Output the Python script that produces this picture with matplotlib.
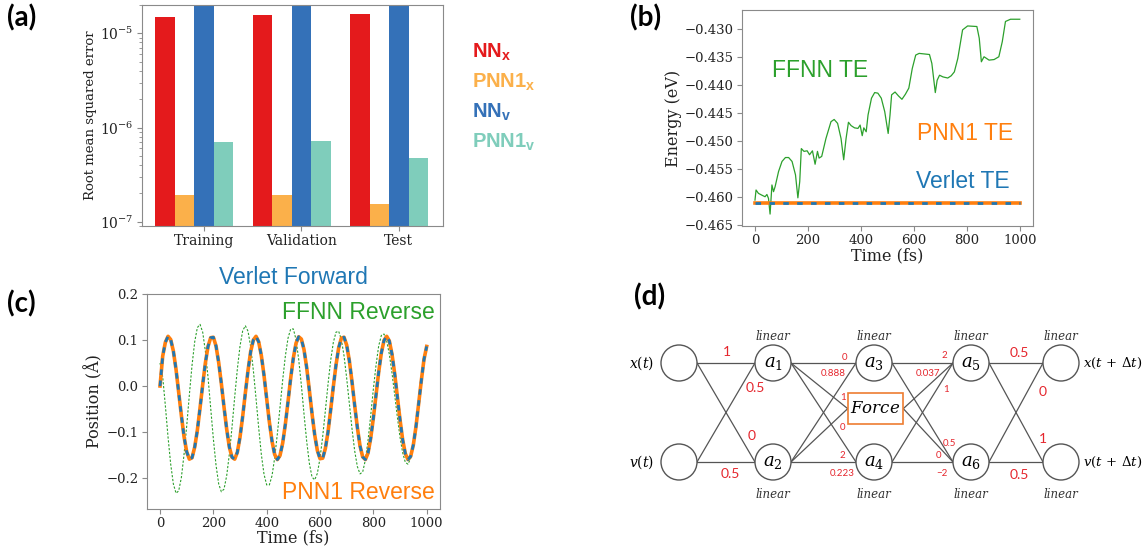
import numpy as np
import matplotlib
matplotlib.use("Agg")
import matplotlib.pyplot as plt
from matplotlib.patches import Circle, Rectangle

plt.rcParams["font.family"] = "DejaVu Serif"
plt.rcParams["mathtext.fontset"] = "custom"
plt.rcParams["mathtext.rm"] = "DejaVu Serif"
plt.rcParams["mathtext.it"] = "DejaVu Serif:italic"
plt.rcParams["mathtext.bf"] = "Liberation Sans:bold"

# ── (a) RMSE per split ────────────────────────────────────────────────────
splits = ["Training", "Validation", "Test"]
rmse_nn_x = [1.48e-5, 1.55e-5, 1.60e-5]
rmse_pnn1_x = [1.91e-7, 1.92e-7, 1.54e-7]
rmse_nn_v = [3.5e-5, 3.5e-5, 3.5e-5]      # runs off the top of the axis
rmse_pnn1_v = [7.06e-7, 7.20e-7, 4.74e-7]
bar_labels = [r"$\mathbf{NN_x}$", r"$\mathbf{PNN1_x}$", r"$\mathbf{NN_v}$", r"$\mathbf{PNN1_v}$"]
bar_colors = ["#e41a1c", "#fbb04a", "#3471b8", "#7fcdbb"]

# ── (b) total energy vs time ──────────────────────────────────────────────
ffnn_te_time = [0, 4, 13, 25, 38, 45, 51, 57, 64, 70, 76, 89, 102, 115, 127, 140, 153, 162,
                169, 175, 185, 197, 206, 217, 227, 236, 242, 252, 268, 287, 299, 312, 325,
                335, 344, 353, 363, 376, 389, 397, 405, 411, 420, 427, 440, 452, 464, 477,
                490, 503, 510, 516, 529, 542, 555, 568, 581, 594, 607, 620, 659, 668, 681,
                688, 697, 710, 728, 741, 753, 766, 784, 803, 838, 847, 855, 865, 884, 903,
                921, 934, 946, 965, 1000]
ffnn_te = [-0.4605, -0.4587, -0.4593, -0.4596, -0.4599, -0.4595, -0.4602, -0.4630, -0.4578,
           -0.4590, -0.4581, -0.4554, -0.4536, -0.4529, -0.4529, -0.4536, -0.4560, -0.4601,
           -0.4572, -0.4513, -0.4518, -0.4517, -0.4524, -0.4517, -0.4541, -0.4518, -0.4530,
           -0.4527, -0.4495, -0.4465, -0.4461, -0.4468, -0.4495, -0.4533, -0.4495, -0.4466,
           -0.4472, -0.4476, -0.4477, -0.4471, -0.4490, -0.4476, -0.4483, -0.4453, -0.4423,
           -0.4413, -0.4414, -0.4423, -0.4447, -0.4486, -0.4453, -0.4417, -0.4412, -0.4419,
           -0.4425, -0.4416, -0.4405, -0.4370, -0.4346, -0.4343, -0.4345, -0.4361, -0.4413,
           -0.4391, -0.4382, -0.4385, -0.4387, -0.4383, -0.4376, -0.4352, -0.4301, -0.4294,
           -0.4295, -0.4316, -0.4358, -0.4349, -0.4355, -0.4354, -0.4349, -0.4322, -0.4286,
           -0.4282, -0.4282]
te_time = [0, 1000]
pnn1_te = [-0.4610, -0.4610]
verlet_te = [-0.4610, -0.4610]

# ── (c) position vs time, every 10 fs ─────────────────────────────────────
pos_time = np.arange(0, 1001, 10)
verlet_fwd = [0.000, 0.065, 0.095, 0.108, 0.101, 0.076, 0.036, -0.014, -0.064, -0.110,
              -0.143, -0.159, -0.156, -0.133, -0.096, -0.048, 0.003, 0.050, 0.086, 0.105,
              0.106, 0.087, 0.051, 0.005, -0.046, -0.094, -0.133, -0.155, -0.159, -0.144,
              -0.111, -0.066, -0.015, 0.034, 0.075, 0.100, 0.108, 0.096, 0.066, 0.023,
              -0.028, -0.078, -0.120, -0.149, -0.160, -0.151, -0.124, -0.083, -0.034, 0.017,
              0.061, 0.093, 0.107, 0.102, 0.079, 0.040, -0.009, -0.060, -0.106, -0.140,
              -0.158, -0.157, -0.136, -0.100, -0.052, -0.001, 0.046, 0.083, 0.104, 0.106,
              0.089, 0.055, 0.009, -0.042, -0.090, -0.130, -0.154, -0.160, -0.146, -0.114,
              -0.070, -0.020, 0.030, 0.072, 0.099, 0.108, 0.098, 0.069, 0.027, -0.023,
              -0.073, -0.117, -0.147, -0.160, -0.153, -0.128, -0.088, -0.038, 0.012, 0.058,
              0.086]
pnn1_rev = list(verlet_fwd)   # indistinguishable from Verlet in the figure
ffnn_rev = [0.050, 0.020, -0.043, -0.111, -0.170, -0.213, -0.233, -0.228, -0.199, -0.149,
            -0.087, -0.019, 0.045, 0.096, 0.127, 0.134, 0.117, 0.076, 0.019, -0.048,
            -0.115, -0.172, -0.213, -0.230, -0.224, -0.195, -0.148, -0.089, -0.024, 0.037,
            0.087, 0.120, 0.131, 0.119, 0.085, 0.034, -0.027, -0.091, -0.149, -0.192,
            -0.215, -0.215, -0.195, -0.156, -0.104, -0.046, 0.013, 0.065, 0.104, 0.124,
            0.124, 0.101, 0.058, 0.002, -0.061, -0.120, -0.168, -0.198, -0.204, -0.190,
            -0.157, -0.110, -0.054, 0.004, 0.056, 0.095, 0.117, 0.119, 0.101, 0.066,
            0.017, -0.038, -0.093, -0.141, -0.175, -0.191, -0.187, -0.161, -0.119, -0.065,
            -0.007, 0.045, 0.087, 0.110, 0.113, 0.098, 0.069, 0.028, -0.019, -0.067,
            -0.111, -0.145, -0.166, -0.170, -0.157, -0.126, -0.082, -0.031, 0.021, 0.065,
            0.088]

# ── (d) network diagram ───────────────────────────────────────────────────
node_names = [["", ""], ["$a_1$", "$a_2$"], ["$a_3$", "$a_4$"], ["$a_5$", "$a_6$"], ["", ""]]
in_labels = ["$x(t)$", "$v(t)$"]
out_labels = [r"$x(t\,+\,\Delta t)$", r"$v(t\,+\,\Delta t)$"]
big_weights = [("1", 727, 352), ("0.5", 755, 388), ("0", 752, 436), ("0.5", 730, 474),
               ("0.5", 1019, 353), ("0", 1043, 392), ("1", 1043, 439), ("0.5", 1019, 475)]
small_weights = [("0", 845, 357), ("0.888", 833, 373), ("1", 843, 398), ("0", 842, 427),
                 ("2", 842, 455), ("0.223", 842, 473),
                 ("2", 944, 356), ("0.037", 928, 373), ("1", 946, 389), ("0.5", 949, 443),
                 ("0", 938, 456), ("\u22122", 942, 473)]

W, H = 1145, 550
GRAY = "#8a8a8a"
RED = "#e5262d"
fig = plt.figure(figsize=(W / 100, H / 100), dpi=100)


def px_axes(x0, y0, x1, y1):
    return fig.add_axes([x0 / W, 1 - y1 / H, (x1 - x0) / W, (y1 - y0) / H])


def style(ax, size):
    for s in ax.spines.values():
        s.set_color(GRAY)
    ax.tick_params(colors=GRAY, labelcolor="#222222", labelsize=size, which="both", pad=2.5)


# (a)
axa = px_axes(141.7, 5, 442.7, 226)
x = np.arange(len(splits))
series = [rmse_nn_x, rmse_pnn1_x, rmse_nn_v, rmse_pnn1_v]
for k, (vals, col) in enumerate(zip(series, bar_colors)):
    axa.bar(x + (k - 1.5) * 0.2, vals, 0.2, color=col)
axa.set_yscale("log")
axa.set_ylim(9.0e-8, 2.0e-5)
axa.set_xlim(-0.54, 2.55)
axa.set_xticks(x + 0.1)
axa.set_xticklabels(splits)
style(axa, 10)
axa.set_ylabel("Root mean squared error", fontsize=9.5, color="#222222", labelpad=2)
for k, (lab, col) in enumerate(zip(bar_labels, bar_colors)):
    fig.text(472 / W, 1 - (52 + 30 * k) / H, lab, color=col, fontsize=14.5, va="center")

# (b)
axb = px_axes(741.75, 10, 1033, 226)
axb.plot(ffnn_te_time, ffnn_te, color="#2ca02c", lw=0.9)
axb.plot(te_time, pnn1_te, color="#ff7f0e", lw=2.6)
axb.plot(te_time, verlet_te, color="#1f77b4", lw=2.0, dashes=(2, 3))
axb.set_xlim(-50, 1050)
axb.set_ylim(-0.46513, -0.42655)
axb.set_xticks([0, 200, 400, 600, 800, 1000])
axb.set_yticks(np.arange(-0.465, -0.4299, 0.005))
style(axb, 9.5)
axb.set_xlabel("Time (fs)", fontsize=11.5, color="#222222", labelpad=0)
axb.set_ylabel("Energy (eV)", fontsize=11.5, color="#222222", labelpad=2)
sans = dict(family="Liberation Sans", fontsize=16.5, va="center")
axb.text(65, -0.4374, "FFNN TE", color="#2ca02c", ha="left", **sans)
axb.text(975, -0.4486, "PNN1 TE", color="#ff7f0e", ha="right", **sans)
axb.text(960, -0.4572, "Verlet TE", color="#1f77b4", ha="right", **sans)

# (c)
axc = px_axes(146.7, 294, 440, 508.5)
axc.plot(pos_time, ffnn_rev, color="#2ca02c", lw=0.8, dashes=(2, 1.5))
axc.plot(pos_time, pnn1_rev, color="#ff7f0e", lw=2.6)
axc.plot(pos_time, verlet_fwd, color="#1f77b4", lw=2.0, dashes=(2, 2))
axc.set_xlim(-50, 1050)
axc.set_ylim(-0.2663, 0.2)
axc.set_xticks([0, 200, 400, 600, 800, 1000])
axc.set_yticks([-0.2, -0.1, 0.0, 0.1, 0.2])
style(axc, 9.5)
axc.set_xlabel("Time (fs)", fontsize=11.5, color="#222222", labelpad=0)
axc.set_ylabel("Position (\u00c5)", fontsize=11.5, color="#222222", labelpad=2)
axc.text(500, 0.2348, "Verlet Forward", color="#1f77b4", ha="center", clip_on=False, **sans)
axc.text(1031, 0.1587, "FFNN Reverse", color="#2ca02c", ha="right", **sans)
axc.text(1031, -0.2315, "PNN1 Reverse", color="#ff7f0e", ha="right", **sans)

# (d) diagram in pixel coordinates
axd = px_axes(636, 280, 1145, 550)
axd.set_xlim(636, 1145)
axd.set_ylim(550, 280)
axd.axis("off")
col_x = [679, 773, 874, 971, 1061]
row_y = [363, 462]
r = 18
box = (847.7, 393.3, 55.6, 30.7)   # Force box: x, y, w, h
line_kw = dict(color="#555555", lw=0.9, zorder=1)
for c in range(len(col_x) - 1):
    for i in range(2):
        for j in range(2):
            axd.plot([col_x[c] + r, col_x[c + 1] - r], [row_y[i], row_y[j]], **line_kw)
bx, by, bw, bh = box
for i in range(2):
    axd.plot([col_x[1] + r, bx], [row_y[i], by + bh / 2], **line_kw)
    axd.plot([bx + bw, col_x[3] - r], [by + bh / 2, row_y[i]], **line_kw)
for c, cx in enumerate(col_x):
    for i, cy in enumerate(row_y):
        axd.add_patch(Circle((cx, cy), r, facecolor="white", edgecolor="#555555", lw=1.0, zorder=2))
        if node_names[c][i]:
            axd.text(cx, cy, node_names[c][i], ha="center", va="center", fontsize=13, zorder=3)
        if c > 0:
            axd.text(cx, 336 if i == 0 else 495, "linear", style="italic", fontsize=8.5,
                     ha="center", va="center", color="#333333")
axd.add_patch(Rectangle((bx, by), bw, bh, facecolor="white", edgecolor="#ed7d31", lw=1.2, zorder=2))
axd.text(bx + bw / 2, by + bh / 2, "$Force$", ha="center", va="center", fontsize=12, zorder=3)
for i, cy in enumerate(row_y):
    axd.text(654, cy, in_labels[i], ha="right", va="center", fontsize=10, clip_on=False)
    axd.text(1083, cy, out_labels[i], ha="left", va="center", fontsize=9.5, clip_on=False)
for t, wx, wy in big_weights:
    axd.text(wx, wy, t, color=RED, family="Lato", fontsize=10, ha="center", va="center")
for t, wx, wy in small_weights:
    axd.text(wx, wy, t, color=RED, family="Lato", fontsize=7, ha="center", va="center")

# panel letters
for lab, px, py in [("(a)", 7, 18), ("(b)", 630, 18), ("(c)", 7, 304), ("(d)", 634, 297)]:
    fig.text(px / W, 1 - py / H, lab, family="Lato", weight="bold", fontsize=20, va="center")

fig.savefig("out.png", dpi=100)
